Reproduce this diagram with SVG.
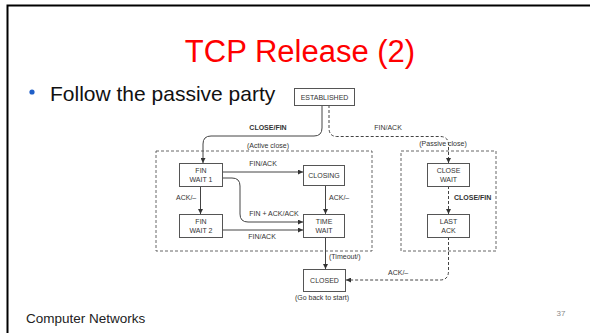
<svg xmlns="http://www.w3.org/2000/svg" width="590" height="333" viewBox="0 0 590 333">
  <style>
    .slide { font-family: "Liberation Sans", Arial, sans-serif; }
    .box { fill: #ffffff; stroke: #555555; stroke-width: 1; }
    .lbl { font-family: "Liberation Sans", Arial, sans-serif; font-size: 7px; fill: #333333; text-anchor: middle; }
    .lbl-l { font-family: "Liberation Sans", Arial, sans-serif; font-size: 7px; fill: #333333; text-anchor: start; }
    .bold { font-weight: bold; }
    .edge { fill: none; stroke: #444444; stroke-width: 1; }
    .dash { fill: none; stroke: #444444; stroke-width: 1; stroke-dasharray: 3 2; }
    .region { fill: none; stroke: #555555; stroke-width: 0.9; stroke-dasharray: 3 2; }
  </style>
  <defs>
    <marker id="arrow" viewBox="0 0 6 6" refX="6" refY="3" markerWidth="5" markerHeight="5" orient="auto" markerUnits="userSpaceOnUse">
      <path d="M0,0 L6,3 L0,6 Z" fill="#333333"/>
    </marker>
  </defs>

  <rect width="590" height="333" fill="#ffffff"/>

  <!-- slide frame -->
  <path d="M7.5,333 V5.5 H590" fill="none" stroke="#000000" stroke-width="2"/>

  <!-- heading -->
  <text x="300" y="62" class="slide" font-size="31" fill="#ff0000" text-anchor="middle">TCP Release (2)</text>
  <circle cx="32" cy="92" r="2.6" fill="#1f5fc8"/>
  <text x="50" y="101" class="slide" font-size="21" fill="#111111">Follow the passive party</text>

  <!-- region frames -->
  <g id="active-region">
    <rect x="156" y="151" width="216" height="100" class="region"/>
  </g>
  <g id="passive-region">
    <rect x="401" y="151" width="95" height="100" class="region"/>
  </g>

  <!-- transitions -->
  <g id="connectors">
    <path d="M322,105 V128 Q322,136 314,136 H211 Q203,136 203,144 V163" class="edge" marker-end="url(#arrow)"/>
    <path d="M329,105 V128 Q329,136.5 337,136.5 H440 Q448.5,136.5 448.5,145 V163" class="dash" marker-end="url(#arrow)"/>
    <path d="M222,172 H303" class="edge" marker-end="url(#arrow)"/>
    <path d="M200.5,186 V214" class="edge" marker-end="url(#arrow)"/>
    <path d="M222,178 H232 Q240,178 240,186 V214 Q240,222 248,222 H303" class="edge" marker-end="url(#arrow)"/>
    <path d="M222,230 H303" class="edge" marker-end="url(#arrow)"/>
    <path d="M325.5,186 V214" class="edge" marker-end="url(#arrow)"/>
    <path d="M325.5,238 V269" class="edge" marker-end="url(#arrow)"/>
    <path d="M448.5,186 V214" class="dash" marker-end="url(#arrow)"/>
    <path d="M448.5,237 V271 Q448.5,280 440,280 H346" class="dash" marker-end="url(#arrow)"/>

    <text x="268" y="130" class="lbl bold">CLOSE/FIN</text>
    <text x="268" y="148" class="lbl">(Active close)</text>
    <text x="388" y="130" class="lbl">FIN/ACK</text>
    <text x="443" y="146" class="lbl">(Passive close)</text>
    <text x="263" y="166" class="lbl">FIN/ACK</text>
    <text x="176" y="200" class="lbl-l">ACK/–</text>
    <text x="329" y="200" class="lbl-l">ACK/–</text>
    <text x="274" y="216" class="lbl">FIN + ACK/ACK</text>
    <text x="262" y="239" class="lbl">FIN/ACK</text>
    <text x="329" y="259" class="lbl-l">(Timeout/)</text>
    <text x="454" y="200" class="lbl-l bold">CLOSE/FIN</text>
    <text x="388" y="275" class="lbl-l">ACK/–</text>
  </g>

  <!-- states -->
  <g id="established">
    <rect x="294.5" y="88.5" width="60" height="17" class="box"/>
    <text x="324.5" y="99.5" class="lbl">ESTABLISHED</text>
  </g>
  <g id="fin-wait-1">
    <rect x="179.5" y="163.5" width="43" height="23" class="box"/>
    <text x="201" y="173" class="lbl">FIN</text>
    <text x="201" y="182" class="lbl">WAIT 1</text>
  </g>
  <g id="closing">
    <rect x="303.5" y="165.5" width="41" height="20" class="box"/>
    <text x="324" y="178" class="lbl">CLOSING</text>
  </g>
  <g id="fin-wait-2">
    <rect x="179.5" y="214.5" width="43" height="23" class="box"/>
    <text x="201" y="224" class="lbl">FIN</text>
    <text x="201" y="233" class="lbl">WAIT 2</text>
  </g>
  <g id="time-wait">
    <rect x="303.5" y="214.5" width="41" height="23" class="box"/>
    <text x="324" y="224" class="lbl">TIME</text>
    <text x="324" y="233" class="lbl">WAIT</text>
  </g>
  <g id="closed">
    <rect x="303.5" y="269.5" width="42" height="22" class="box"/>
    <text x="324.5" y="283" class="lbl">CLOSED</text>
    <text x="322" y="300" class="lbl">(Go back to start)</text>
  </g>
  <g id="close-wait">
    <rect x="427.5" y="163.5" width="42" height="23" class="box"/>
    <text x="448.5" y="173" class="lbl">CLOSE</text>
    <text x="448.5" y="182" class="lbl">WAIT</text>
  </g>
  <g id="last-ack">
    <rect x="427.5" y="214.5" width="42" height="23" class="box"/>
    <text x="448.5" y="224" class="lbl">LAST</text>
    <text x="448.5" y="233" class="lbl">ACK</text>
  </g>

  <!-- footer -->
  <text x="26" y="323" class="slide" font-size="13.5" fill="#222222">Computer Networks</text>
  <text x="561" y="316" class="slide" font-size="8" fill="#8a8a8a" text-anchor="middle">37</text>
</svg>
